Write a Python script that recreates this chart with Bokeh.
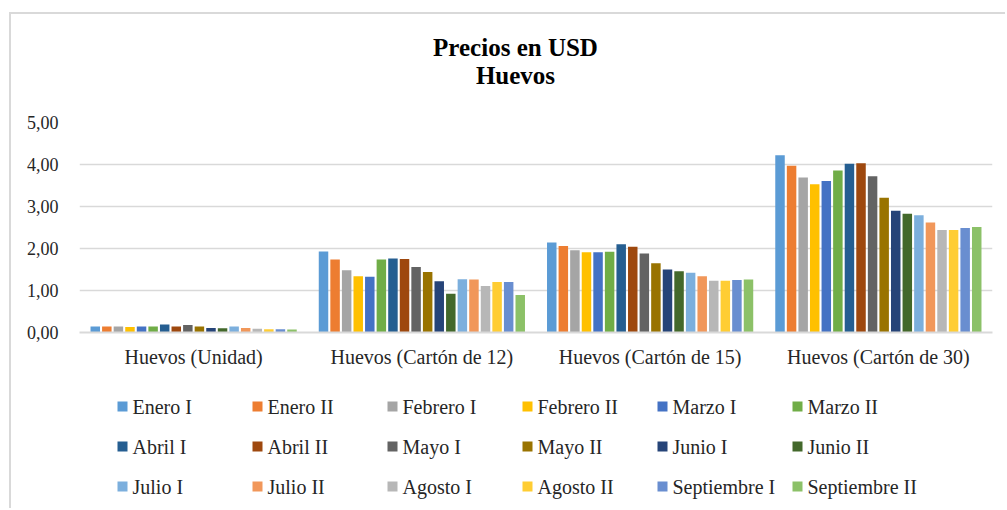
from bokeh.plotting import figure
from bokeh.layouts import column
from bokeh.models import (ColumnDataSource, FactorRange, Range1d, FixedTicker)
from bokeh.core.properties import value
from bokeh.transform import dodge
from bokeh.embed import file_html
from bokeh.resources import INLINE

categories = ["Huevos (Unidad)", "Huevos (Cartón de 12)", "Huevos (Cartón de 15)", "Huevos (Cartón de 30)"]

series_names = ["Enero I", "Enero II", "Febrero I", "Febrero II", "Marzo I", "Marzo II",
                "Abril I", "Abril II", "Mayo I", "Mayo II", "Junio I", "Junio II",
                "Julio I", "Julio II", "Agosto I", "Agosto II", "Septiembre I", "Septiembre II"]

unidad = [0.14, 0.14, 0.14, 0.13, 0.14, 0.14, 0.19, 0.14, 0.18, 0.14, 0.11, 0.10,
          0.14, 0.11, 0.09, 0.08, 0.08, 0.07]
carton12 = [1.93, 1.74, 1.48, 1.34, 1.33, 1.74, 1.76, 1.75, 1.56, 1.44, 1.22, 0.92,
            1.27, 1.26, 1.11, 1.20, 1.20, 0.89]
carton15 = [2.14, 2.06, 1.96, 1.91, 1.91, 1.92, 2.10, 2.04, 1.88, 1.65, 1.50, 1.46,
            1.42, 1.34, 1.23, 1.23, 1.25, 1.26]
carton30 = [4.22, 3.97, 3.69, 3.53, 3.61, 3.86, 4.02, 4.03, 3.72, 3.21, 2.90, 2.83,
            2.79, 2.62, 2.44, 2.44, 2.49, 2.51]

colors = ["#5B9BD5", "#ED7D31", "#A5A5A5", "#FFC000", "#4472C4", "#70AD47",
          "#255E91", "#9E480E", "#636363", "#997300", "#264478", "#43682B",
          "#7CAFDD", "#F1975A", "#B7B7B7", "#FFCD33", "#698ED0", "#8CC168"]

y_ticks = [0, 1, 2, 3, 4, 5]
y_tick_labels = ["0,00", "1,00", "2,00", "3,00", "4,00", "5,00"]

title_lines = ["Precios en USD", "Huevos"]

FONT = "Liberation Serif"
W = 994
LEFT = 68
FRAME_W = 913
RIGHT = W - LEFT - FRAME_W

# ---------------- title strip ----------------
TH = 96
tt = figure(width=W, height=TH, x_range=Range1d(LEFT, LEFT + FRAME_W), y_range=Range1d(TH, 0),
            output_backend="svg", toolbar_location=None, min_border=0,
            min_border_left=LEFT, min_border_right=RIGHT)
tt.axis.visible = False
tt.grid.visible = False
tt.outline_line_color = None
tsrc = ColumnDataSource(dict(x=[504, 504], y=[33, 61], text=title_lines))
tt.text(x="x", y="y", text="text", source=tsrc, text_align="center", text_baseline="middle",
        text_font=value(FONT), text_font_size="25px", text_font_style="bold",
        text_color="#000000")

# ---------------- main chart ----------------
data = {"cat": categories}
for i, name in enumerate(series_names):
    data[f"s{i}"] = [unidad[i], carton12[i], carton15[i], carton30[i]]
source = ColumnDataSource(data)

p = figure(width=W, height=282, x_range=FactorRange(*categories), y_range=Range1d(0, 5),
           output_backend="svg", toolbar_location=None, title=None,
           min_border_left=LEFT, min_border_right=RIGHT, min_border_top=12, min_border_bottom=60)
p.outline_line_color = None

pitch = 0.0507
for i, name in enumerate(series_names):
    off = (i - 8.5) * pitch
    p.vbar(x=dodge("cat", off, range=p.x_range), top=f"s{i}", width=pitch * 0.82,
           source=source, fill_color=colors[i], line_color=None)

p.yaxis.ticker = FixedTicker(ticks=y_ticks)
p.yaxis.major_label_overrides = {t: l for t, l in zip(y_ticks, y_tick_labels)}
p.yaxis.axis_line_color = None
p.yaxis.major_tick_line_color = None
p.yaxis.minor_tick_line_color = None
p.yaxis.major_label_standoff = 15
p.yaxis.major_label_text_font = FONT
p.yaxis.major_label_text_font_size = "18px"
p.yaxis.major_label_text_color = "#262626"

p.xaxis.axis_line_color = "#D9D9D9"
p.xaxis.axis_line_width = 2
p.xaxis.major_tick_line_color = None
p.xaxis.minor_tick_line_color = None
p.xaxis.major_label_standoff = 7
p.xaxis.major_label_text_font = FONT
p.xaxis.major_label_text_font_size = "20px"
p.xaxis.major_label_text_color = "#262626"

p.xgrid.grid_line_color = None
p.ygrid.grid_line_color = "#D9D9D9"
p.ygrid.grid_line_width = 1.5
p.ygrid.ticker = FixedTicker(ticks=y_ticks)

# ---------------- legend strip (6 columns x 3 rows) ----------------
LH = 116
ncols = 6
col_pitch = 135
row_pitch = 40
x0 = 111
y0 = 14
leg_src = ColumnDataSource(dict(
    x=[x0 + (i % ncols) * col_pitch for i in range(len(series_names))],
    y=[y0 + (i // ncols) * row_pitch for i in range(len(series_names))],
    label=series_names,
    color=colors,
))
leg = figure(width=W, height=LH, x_range=Range1d(LEFT, LEFT + FRAME_W), y_range=Range1d(LH, 0),
             output_backend="svg", toolbar_location=None, min_border=0,
             min_border_left=LEFT, min_border_right=RIGHT)
leg.axis.visible = False
leg.grid.visible = False
leg.outline_line_color = None
leg.rect(x="x", y="y", width=10, height=10, width_units="screen", height_units="screen",
         fill_color="color", line_color=None, source=leg_src)
leg.text(x="x", y="y", text="label", x_offset=10, text_baseline="middle", text_align="left",
         text_font=value(FONT), text_font_size="20px", text_color="#262626", source=leg_src)

layout = column(tt, p, leg, spacing=0,
                styles={"margin-left": "9px", "margin-top": "12px",
                        "border-left": "2px solid #D9D9D9", "border-top": "2px solid #D9D9D9"})

open("out.html", "w").write(file_html(layout, INLINE))
